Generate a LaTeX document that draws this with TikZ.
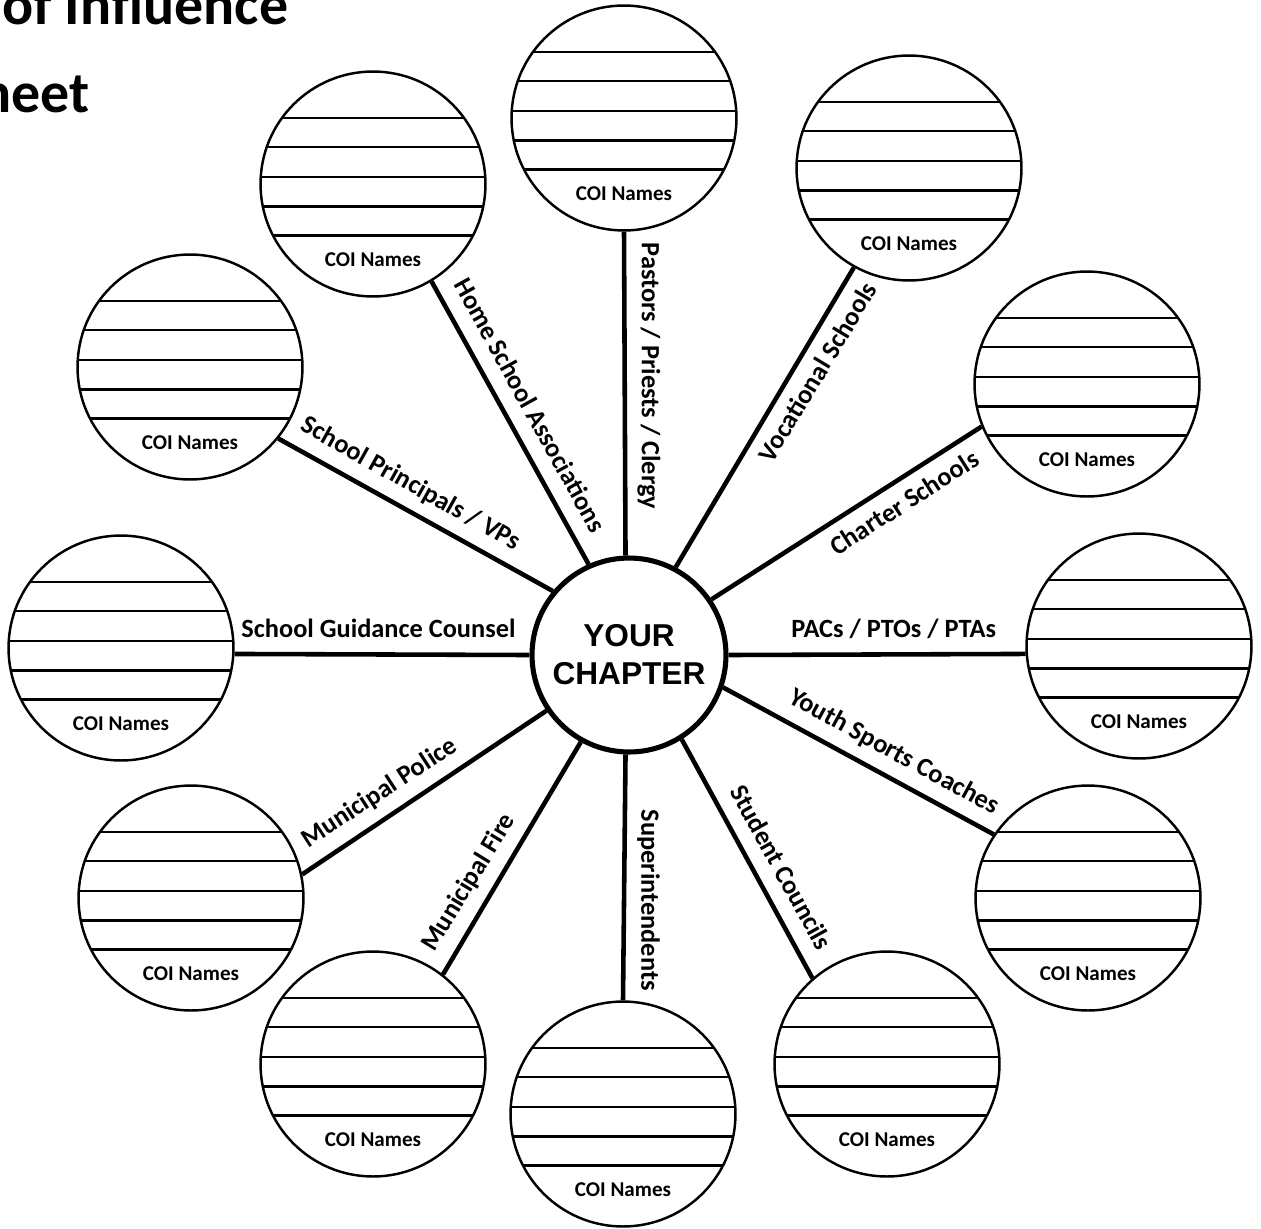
\documentclass[tikz,border=0pt]{standalone}
\usepackage{fontspec}
\setmainfont{Carlito}
\newfontfamily\arialfont{Liberation Sans}
\begin{document}
\begin{tikzpicture}[x=0.02cm, y=-0.02cm,
  coitxt/.style={font=\bfseries\fontsize{12}{14}\selectfont, yshift=-1.51cm},
  coi/.style={circle, draw, line width=1.4pt, minimum size=4.5cm, inner sep=0pt,
    path picture={\foreach \d in {1.32,0.74,0.14,-0.45,-1.03}{\draw[line width=1.5pt] ([xshift=-3cm,yshift=\d cm]path picture bounding box.center) -- ([xshift=3cm,yshift=\d cm]path picture bounding box.center);}},
    label={[coitxt]center:COI Names}},
  hub/.style={circle, draw, line width=2.9pt, minimum size=3.88cm, inner sep=0pt, align=center, font=\arialfont\bfseries\fontsize{18}{21.6}\selectfont},
  spoke/.style={line width=2.6pt},
  lab/.style={font=\bfseries\fontsize{15}{18}\selectfont, text height=11pt, text depth=3pt, inner sep=5.5pt},
  titletxt/.style={font=\bfseries\fontsize{33}{40}\selectfont, inner sep=0pt},
]
\useasboundingbox (0,0) rectangle (1261,1228);
\clip (0,0) rectangle (1261,1228);

\node[titletxt, anchor=base west] (t1) at (2,24) {of Influence};
\node[titletxt, anchor=base east] (t2) at (90,112) {heet};

\node[hub] (c) at (629,655) {YOUR\\CHAPTER};
\node[coi] (pas) at (624,118) {};
\node[coi] (voc) at (909,168) {};
\node[coi] (cha) at (1087,384) {};
\node[coi] (pac) at (1139,646) {};
\node[coi] (you) at (1088,898) {};
\node[coi] (stu) at (887,1064) {};
\node[coi] (sup) at (623,1114) {};
\node[coi] (fir) at (373,1064) {};
\node[coi] (pol) at (191,898) {};
\node[coi] (gui) at (121,648) {};
\node[coi] (pri) at (190,367) {};
\node[coi] (hom) at (373,184) {};

\draw[spoke] (c.92) -- (pas.270) node[lab, pos=0.555, rotate=-90, anchor=south] {Pastors / Priests / Clergy};
\draw[spoke] (c.62.4) -- (voc.241.9) node[lab, pos=0.689, rotate=58.9, anchor=north] {Vocational Schools};
\draw[spoke] (c.34.5) -- (cha.202.1) node[lab, pos=0.669, rotate=32.6, anchor=north] {Charter Schools};
\draw[spoke] (c.0) -- (pac.184.5) node[lab, pos=0.556, anchor=south] {PACs / PTOs / PTAs};
\draw[spoke] (c.-19.3) -- (you.146.9) node[lab, pos=0.587, rotate=-28.6, anchor=south] {Youth Sports Coaches};
\draw[spoke] (c.-58.6) -- (stu.131.8) node[lab, pos=0.588, rotate=-61, anchor=south] {Student Councils};
\draw[spoke] (c.268) -- (sup.90) node[lab, pos=0.593, rotate=-90, anchor=south] {Superintendents};
\draw[spoke] (c.241.9) -- (fir.52.4) node[lab, pos=0.659, rotate=58.6, anchor=south] {Municipal Fire};
\draw[spoke] (c.214.6) -- (pol.12.5) node[lab, pos=0.629, rotate=33, anchor=south] {Municipal Police};
\draw[spoke] (c.180) -- (gui.-3.6) node[lab, pos=0.512, anchor=south] {School Guidance Counsel};
\draw[spoke] (c.140.8) -- (pri.-39.6) node[lab, pos=0.562, rotate=-29.3, anchor=south] {School Principals / VPs};
\draw[spoke] (c.114.5) -- (hom.-59.6) node[lab, pos=0.518, rotate=-61, anchor=south] {Home School Associations};
\end{tikzpicture}
\end{document}
